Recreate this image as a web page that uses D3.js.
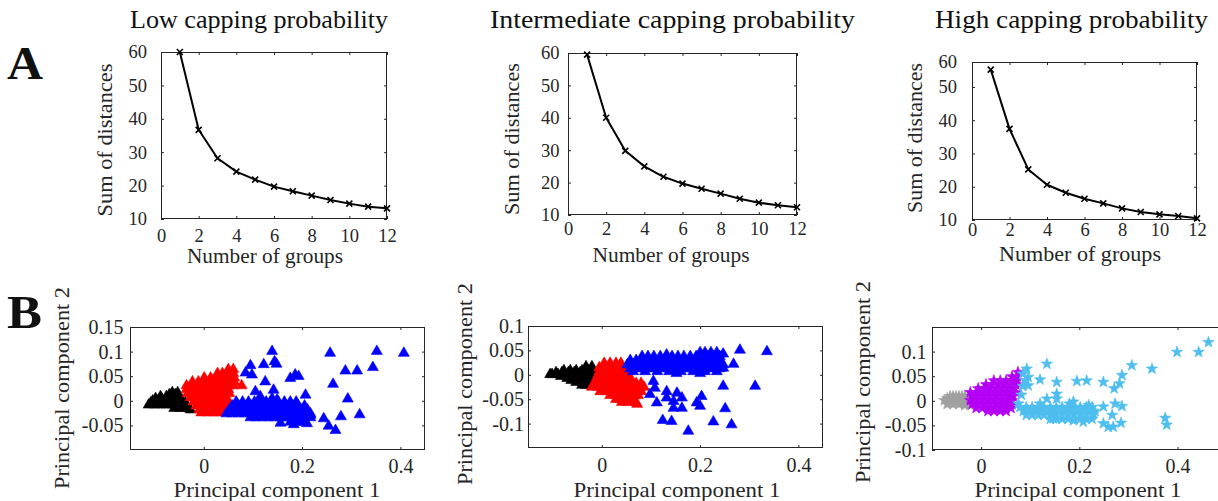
<!DOCTYPE html>
<html><head><meta charset="utf-8">
<script src="https://cdn.jsdelivr.net/npm/d3@7"></script>
<style>
html,body{margin:0;padding:0;background:#fff;}
svg{display:block;}
text{font-family:"Liberation Serif","Times New Roman",serif;}
</style></head><body>
<svg id="fig" width="1218" height="501"></svg>
<script>
// ---------- DATA ----------
const groups = [1,2,3,4,5,6,7,8,9,10,11,12];
const lowSum  = [60, 36.7, 28.2, 24.2, 21.8, 19.7, 18.3, 17.0, 15.7, 14.6, 13.7, 13.2];
const intSum  = [59.5, 40.0, 29.8, 25.0, 21.8, 19.7, 18.1, 16.6, 15.0, 13.8, 13.0, 12.4];
const highSum = [55.2, 37.4, 25.2, 20.6, 18.2, 16.4, 15.0, 13.5, 12.4, 11.7, 11.2, 10.5];
const elbowXTicks = [0,2,4,6,8,10,12];
const elbowYTicks = [10,20,30,40,50,60];
const highYTicks = [10,20,30,40,50,57.5];
const highYTickLabels = ["10","20","30","40","50","60"];

const pcXTicks = [0, 0.2, 0.4];
const lowPcYTicks  = [0.15, 0.1, 0.05, 0, -0.05];
const intPcYTicks  = [0.1, 0.05, 0, -0.05, -0.1];
const highPcYTicks = [0.1, 0.05, 0, -0.05, -0.1];

const titles = ["Low capping probability","Intermediate capping probability","High capping probability"];

// Point clouds. Dense parts are written as rows: [PC2, [PC1 values...]]
// Low capping probability
const lowBlackRows = [
 [0.020, [-0.064,-0.053]],
 [0.016, [-0.070,-0.058]],
 [0.012, [-0.088,-0.076,-0.064,-0.051]],
 [0.008, [-0.098,-0.086,-0.074,-0.062,-0.049]],
 [0.003, [-0.104,-0.092,-0.080,-0.068,-0.055,-0.043]],
 [-0.001,[-0.108,-0.096,-0.084,-0.072,-0.060,-0.047,-0.037]],
 [-0.005,[-0.112,-0.100,-0.088,-0.076,-0.064,-0.051,-0.039]],
 [-0.012,[-0.060,-0.047,-0.035]],
 [-0.015,[-0.027]]];
const lowRedRows = [
 [0.067, [0.050,0.060]],
 [0.059, [0.028,0.038,0.050,0.060]],
 [0.050, [0.001,0.014,0.026,0.038,0.050,0.062]],
 [0.042, [-0.023,-0.011,0.001,0.014,0.026,0.038,0.050,0.062]],
 [0.034, [-0.035,-0.023,-0.011,0.001,0.014,0.026,0.038,0.050,0.060,0.077]],
 [0.026, [-0.035,-0.023,-0.011,0.001,0.014,0.026,0.038,0.050]],
 [0.018, [-0.033,-0.021,-0.009,0.003,0.016,0.028,0.040,0.052]],
 [0.010, [-0.027,-0.015,-0.003,0.010,0.022,0.034,0.046]],
 [0.001, [-0.021,-0.009,0.003,0.016,0.028,0.040,0.050]],
 [-0.007,[-0.015,-0.003,0.010,0.022,0.034,0.044]],
 [-0.015,[-0.009,0.003,0.016,0.028,0.038]],
 [-0.021,[-0.005,0.008,0.020,0.032]]];
const lowBlueRows = [
 [0.001, [0.066,0.079,0.091,0.103,0.115,0.127,0.140,0.152,0.164,0.176,0.188]],
 [-0.007,[0.058,0.071,0.083,0.095,0.107,0.119,0.132,0.144,0.156,0.168,0.180,0.192,0.205]],
 [-0.015,[0.052,0.064,0.077,0.089,0.101,0.113,0.125,0.138,0.150,0.162,0.174,0.186,0.199,0.211]],
 [-0.023,[0.046,0.058,0.071,0.083,0.095,0.107,0.119,0.132,0.144,0.156,0.168,0.180,0.192,0.205,0.217]],
 [-0.031,[0.095,0.107,0.119,0.132,0.144,0.156,0.168,0.180,0.192,0.205,0.217]],
 [-0.040,[0.176,0.188,0.201]]];
const lowBlueScatter = [[0.139,0.104],[0.122,0.077],[0.144,0.083],[0.148,0.078],[0.095,0.075],[0.085,0.060],[0.098,0.056],[0.125,0.042],[0.176,0.049],[0.186,0.056],[0.193,0.053],
 [0.105,0.022],[0.115,0.012],[0.142,0.025],[0.139,0.008],[0.149,0.005],[0.207,0.015],[0.257,0.100],[0.352,0.104],[0.407,0.100],[0.288,0.064],[0.312,0.064],[0.344,0.071],
 [0.263,0.037],[0.293,0.007],[0.244,-0.033],[0.254,-0.048],[0.268,-0.057],[0.279,-0.029],[0.317,-0.025],[0.217,-0.026],[0.210,-0.043],[0.183,-0.045],[0.156,-0.042]];

// Intermediate capping probability
const intBlackRows = [
 [0.020, [-0.032,-0.020]],
 [0.012, [-0.077,-0.064,-0.052,-0.040,-0.028,-0.018]],
 [0.008, [-0.093,-0.081,-0.068,-0.056,-0.044,-0.032,-0.020]],
 [0.004, [-0.105,-0.101,-0.089,-0.077,-0.064,-0.052,-0.040,-0.028,-0.018]],
 [0.000, [-0.083,-0.070,-0.058,-0.046,-0.034,-0.022]],
 [-0.004,[-0.070,-0.058,-0.046,-0.034,-0.022]],
 [-0.008,[-0.062,-0.050,-0.038,-0.026]],
 [-0.012,[-0.052,-0.040,-0.030]],
 [-0.018,[-0.040,-0.032]]];
const intRedRows = [
 [0.027, [0.005,0.017,0.029,0.039]],
 [0.018, [-0.005,0.007,0.019,0.031,0.041]],
 [0.010, [-0.005,0.007,0.019,0.031,0.043,0.052]],
 [0.002, [-0.008,0.005,0.017,0.029,0.041,0.052]],
 [-0.006,[-0.011,0.001,0.013,0.025,0.037,0.049,0.060]],
 [-0.014,[-0.015,-0.003,0.009,0.021,0.033,0.045,0.058,0.070,0.080]],
 [-0.022,[-0.020,-0.008,0.005,0.017,0.029,0.041,0.054,0.066,0.078,0.086]],
 [-0.031,[-0.003,0.009,0.021,0.033,0.045,0.058,0.070,0.080]],
 [-0.039,[0.017,0.029,0.041,0.054,0.066,0.074]],
 [-0.047,[0.029,0.041,0.054,0.066]],
 [-0.053,[0.041,0.054,0.068]],
 [-0.057,[0.072]]];
const intBlueRows = [
 [0.049, [0.200,0.210,0.222,0.234]],
 [0.041, [0.082,0.094,0.106,0.119,0.131,0.143,0.155,0.167,0.180,0.192,0.204,0.216,0.228,0.240]],
 [0.033, [0.058,0.070,0.082,0.094,0.106,0.119,0.131,0.143,0.155,0.167,0.180,0.192,0.204,0.216,0.228,0.240]],
 [0.024, [0.052,0.064,0.076,0.088,0.100,0.113,0.125,0.137,0.149,0.161,0.174,0.186,0.198,0.210,0.222,0.234,0.247]],
 [0.016, [0.058,0.070,0.082,0.094,0.106,0.119,0.131,0.143,0.155,0.167,0.180,0.192,0.204,0.216,0.228,0.240]],
 [0.010, [0.064,0.088,0.113,0.137,0.161,0.186,0.210,0.234]]];
const intBlueScatter = [[0.281,0.054],[0.336,0.051],[0.247,0.046],[0.268,0.025],[0.247,0.017],[0.312,-0.020],[0.247,-0.020],[0.203,-0.041],[0.193,-0.054],[0.200,-0.061],
 [0.251,-0.066],[0.227,-0.093],[0.264,-0.099],[0.176,-0.112],[0.142,-0.092],[0.124,-0.090],[0.132,-0.031],[0.153,-0.034],[0.163,-0.044],[0.146,-0.051],
 [0.146,-0.065],[0.163,-0.065],[0.132,-0.044],[0.112,-0.054],[0.105,-0.010],[0.108,-0.024],[0.098,-0.037],[0.132,0.044],[0.152,0.006],[0.200,0.006]];

// High capping probability
const highGrayRows = [
 [0.009, [-0.063,-0.057,-0.051,-0.045,-0.039,-0.033,-0.026]],
 [0.005, [-0.069,-0.057,-0.045,-0.033]],
 [0.001, [-0.075,-0.063,-0.051,-0.039,-0.026]],
 [-0.003,[-0.063,-0.051,-0.039,-0.026]],
 [-0.007,[-0.069,-0.057,-0.045,-0.033,-0.022]],
 [-0.009,[-0.033,-0.022]]];
const highPurpleRows = [
 [0.058, [0.075]],
 [0.049, [0.063,0.073]],
 [0.041, [0.026,0.039,0.051,0.063,0.073]],
 [0.033, [0.010,0.022,0.035,0.047,0.059,0.071]],
 [0.025, [-0.006,0.006,0.018,0.031,0.043,0.055,0.067]],
 [0.017, [-0.022,-0.010,0.002,0.014,0.026,0.039,0.051,0.063,0.071]],
 [0.009, [-0.018,-0.006,0.006,0.018,0.031,0.043,0.055,0.065]],
 [0.001, [-0.022,-0.010,0.002,0.014,0.026,0.039,0.051,0.063]],
 [-0.007,[-0.018,-0.006,0.006,0.018,0.031,0.043,0.055,0.063]],
 [-0.015,[-0.010,0.002,0.014,0.026,0.039,0.051,0.061]],
 [-0.021,[0.014,0.026,0.039,0.051]]];
const highCyanRows = [
 [-0.013,[0.079,0.092,0.104,0.116,0.128,0.141,0.153,0.165,0.177,0.189,0.202,0.214,0.226]],
 [-0.021,[0.086,0.098,0.110,0.122,0.134,0.147,0.159,0.171,0.183,0.196,0.208,0.220,0.232]],
 [-0.029,[0.092,0.104,0.116,0.128,0.141,0.153,0.165,0.177,0.189,0.202,0.214,0.226]],
 [-0.037,[0.141,0.153,0.165,0.177,0.189,0.202,0.214,0.226]]];
const highCyanScatter = [[0.093,0.065],[0.096,0.048],[0.134,0.075],[0.120,0.043],[0.096,0.031],[0.154,0.038],[0.195,0.040],[0.215,0.041],[0.249,0.038],[0.287,0.052],[0.282,0.035],
 [0.271,0.025],[0.307,0.072],[0.348,0.065],[0.399,0.099],[0.443,0.099],[0.463,0.119],[0.375,-0.035],[0.378,-0.049],[0.273,-0.006],[0.287,-0.011],
 [0.267,-0.029],[0.285,-0.045],[0.249,-0.012],[0.249,-0.046],[0.259,-0.053],[0.269,-0.053],[0.229,-0.026],[0.219,-0.009],[0.188,-0.002],[0.154,0.014],
 [0.154,0.004],[0.134,0.004],[0.208,-0.043],[0.188,-0.040],[0.147,-0.036],[0.085,0.055],[0.090,0.041],[0.085,0.030],[0.082,0.012],[0.076,-0.006],[0.120,-0.006],[0.180,-0.006]];

const rowsToPoints = rows => rows.flatMap(([y, xs]) => xs.map(x => [x, y]));

// ---------- DRAWING ----------
const svg = d3.select("#fig");
const AX = "#262626";

function triPath(w,h){ return `M0,${-h/2}L${w/2},${h/2}L${-w/2},${h/2}Z`; }
function starPath(R){
  let p="";
  for(let i=0;i<10;i++){ const r = i%2 ? R*0.4 : R; const a = -Math.PI/2 + i*Math.PI/5;
    p += (i?"L":"M")+(r*Math.cos(a)).toFixed(2)+","+(r*Math.sin(a)).toFixed(2); }
  return p+"Z";
}

let clipId = 0;
function makeAxes(c){
  const x = d3.scaleLinear().domain(c.xDomain).range([c.left, c.right]);
  const y = d3.scaleLinear().domain(c.yDomain).range([c.bottom, c.top]);
  const g = svg.append("g");
  const id = "clip"+(clipId++);
  svg.append("clipPath").attr("id",id).append("rect")
    .attr("x",c.left).attr("y",c.top).attr("width",c.right-c.left).attr("height",c.bottom-c.top);
  const plot = g.append("g").attr("clip-path",`url(#${id})`);
  const fmtY = c.yLabels ? ((d,i)=>c.yLabels[i]) : (d=>String(d));
  const fmtX = d=>String(d);
  const style = sel => { sel.select(".domain").remove();
    sel.selectAll("line").attr("stroke",AX).attr("stroke-width",1);
    sel.selectAll("text").attr("fill",AX).style("font-family",'"Liberation Serif",serif').style("font-size",c.tickFont+"px"); };
  g.append("g").attr("transform",`translate(0,${c.bottom})`)
    .call(d3.axisBottom(x).tickValues(c.xTicks).tickFormat(fmtX).tickSizeInner(-3).tickSizeOuter(0).tickPadding(c.xPad)).call(style);
  g.append("g").attr("transform",`translate(0,${c.top})`)
    .call(d3.axisTop(x).tickValues(c.xTicks).tickFormat("").tickSizeInner(-3).tickSizeOuter(0)).call(style);
  g.append("g").attr("transform",`translate(${c.left},0)`)
    .call(d3.axisLeft(y).tickValues(c.yTicks).tickFormat(fmtY).tickSizeInner(-3).tickSizeOuter(0).tickPadding(c.yPad)).call(style);
  if (c.right < 1218) g.append("g").attr("transform",`translate(${c.right},0)`)
    .call(d3.axisRight(y).tickValues(c.yTicks).tickFormat("").tickSizeInner(-3).tickSizeOuter(0)).call(style);
  g.append("rect").attr("x",c.left+0.5).attr("y",c.top+0.5).attr("width",c.right-c.left-1).attr("height",c.bottom-c.top-1)
    .attr("fill","none").attr("stroke",AX).attr("stroke-width",1);
  g.append("text").attr("x",c.xlX).attr("y",c.xlY).attr("text-anchor","middle")
    .attr("textLength",c.xlLen).attr("lengthAdjust","spacingAndGlyphs")
    .style("font-size",c.labFont+"px").attr("fill",AX).text(c.xLabel);
  g.append("text").attr("transform",`translate(${c.ylX},${c.ylY}) rotate(-90)`).attr("text-anchor","middle")
    .attr("textLength",c.ylLen).attr("lengthAdjust","spacingAndGlyphs")
    .style("font-size",c.labFont+"px").attr("fill",AX).text(c.yLabel);
  return {x,y,plot,g};
}

// Titles
const titleCfg = [{cx:259, len:258},{cx:672.5, len:365},{cx:1071.5, len:273}];
titles.forEach((t,i)=>{
  svg.append("text").attr("x",titleCfg[i].cx).attr("y",28).attr("text-anchor","middle")
    .attr("textLength",titleCfg[i].len).attr("lengthAdjust","spacingAndGlyphs")
    .style("font-size","25px").attr("fill","#111").text(t);
});
svg.append("text").attr("x",7).attr("y",79).attr("textLength",36).attr("lengthAdjust","spacingAndGlyphs")
  .style("font-size","46px").style("font-weight","bold").attr("fill","#111").text("A");
svg.append("text").attr("x",7).attr("y",328).attr("textLength",35).attr("lengthAdjust","spacingAndGlyphs")
  .style("font-size","46px").style("font-weight","bold").attr("fill","#111").text("B");

// Elbow panels
const elbow = [
  {vals:lowSum, left:161,right:387,top:52,bottom:219, yDomain:[10,60], yTicks:elbowYTicks, yLabels:null, xPad:9.5, yPad:14,
   xlX:265, xlY:263, xlLen:156, ylX:112, ylY:140, ylLen:153},
  {vals:intSum, left:568,right:797,top:53,bottom:215, yDomain:[10,60], yTicks:elbowYTicks, yLabels:null, xPad:7, yPad:8.5,
   xlX:671, xlY:262, xlLen:157, ylX:519, ylY:139, ylLen:152},
  {vals:highSum, left:972,right:1197,top:62,bottom:220, yDomain:[10,57.5], yTicks:highYTicks, yLabels:highYTickLabels, xPad:2.5, yPad:15,
   xlX:1080, xlY:261, xlLen:162, ylX:922, ylY:138, ylLen:150}
];
elbow.forEach(p=>{
  const c = Object.assign({xDomain:[0,12], xTicks:elbowXTicks, tickFont:18.5, labFont:21.5,
    xLabel:"Number of groups", yLabel:"Sum of distances"}, p);
  const {x,y,g} = makeAxes(c);
  const pts = groups.map((gv,i)=>[gv, p.vals[i]]);
  g.append("path").datum(pts).attr("fill","none").attr("stroke","#000").attr("stroke-width",2).attr("stroke-linejoin","round")
    .attr("d", d3.line().x(d=>x(d[0])).y(d=>y(d[1])));
  const s = 3;
  g.append("g").selectAll("path").data(pts).join("path")
    .attr("transform",d=>`translate(${x(d[0])},${y(d[1])})`)
    .attr("d",`M${-s},${-s}L${s},${s}M${-s},${s}L${s},${-s}`)
    .attr("stroke","#000").attr("stroke-width",1.6);
});

// PCA panels
const pca = [
  {left:130,right:425,top:327,bottom:450, xDomain:[-0.15,0.45], yDomain:[-0.1,0.15], yTicks:lowPcYTicks, xPad:8.8, yPad:6.5,
   xlX:277, xlY:497, ylX:69, ylY:388,
   groups:[[rowsToPoints(lowBlackRows),"#000000"],[rowsToPoints(lowRedRows),"#ff0000"],[rowsToPoints(lowBlueRows).concat(lowBlueScatter),"#0000ff"]], marker:"tri"},
  {left:528,right:823,top:326,bottom:448, xDomain:[-0.15,0.45], yDomain:[-0.15,0.1], yTicks:intPcYTicks, xPad:9.5, yPad:4,
   xlX:677, xlY:497, ylX:472, ylY:384,
   groups:[[rowsToPoints(intBlackRows),"#000000"],[rowsToPoints(intRedRows),"#ff0000"],[rowsToPoints(intBlueRows).concat(intBlueScatter),"#0000ff"]], marker:"tri"},
  {left:932,right:1226.6,top:327,bottom:450, xDomain:[-0.1,0.5], yDomain:[-0.1,0.15], yTicks:highPcYTicks, xPad:8.5, yPad:5.5,
   xlX:1078, xlY:497, ylX:870, ylY:382,
   groups:[[rowsToPoints(highGrayRows),"#a0a0a0"],[rowsToPoints(highPurpleRows),"#b400f5"],[rowsToPoints(highCyanRows).concat(highCyanScatter),"#4dbeee"]], marker:"star"}
];
pca.forEach(p=>{
  const c = Object.assign({xTicks:pcXTicks, tickFont:20, labFont:22, xlLen:207, ylLen:202,
    xLabel:"Principal component 1", yLabel:"Principal component 2"}, p);
  const {x,y,plot} = makeAxes(c);
  const shape = p.marker==="tri" ? triPath(11,9.5) : starPath(6);
  p.groups.forEach(([arr,col])=>{
    plot.append("g").selectAll("path").data(arr).join("path")
      .attr("transform",d=>`translate(${x(d[0])},${y(d[1])})`)
      .attr("d",shape).attr("fill",col).attr("stroke",col).attr("stroke-width",0.6);
  });
});
</script>
</body></html>
